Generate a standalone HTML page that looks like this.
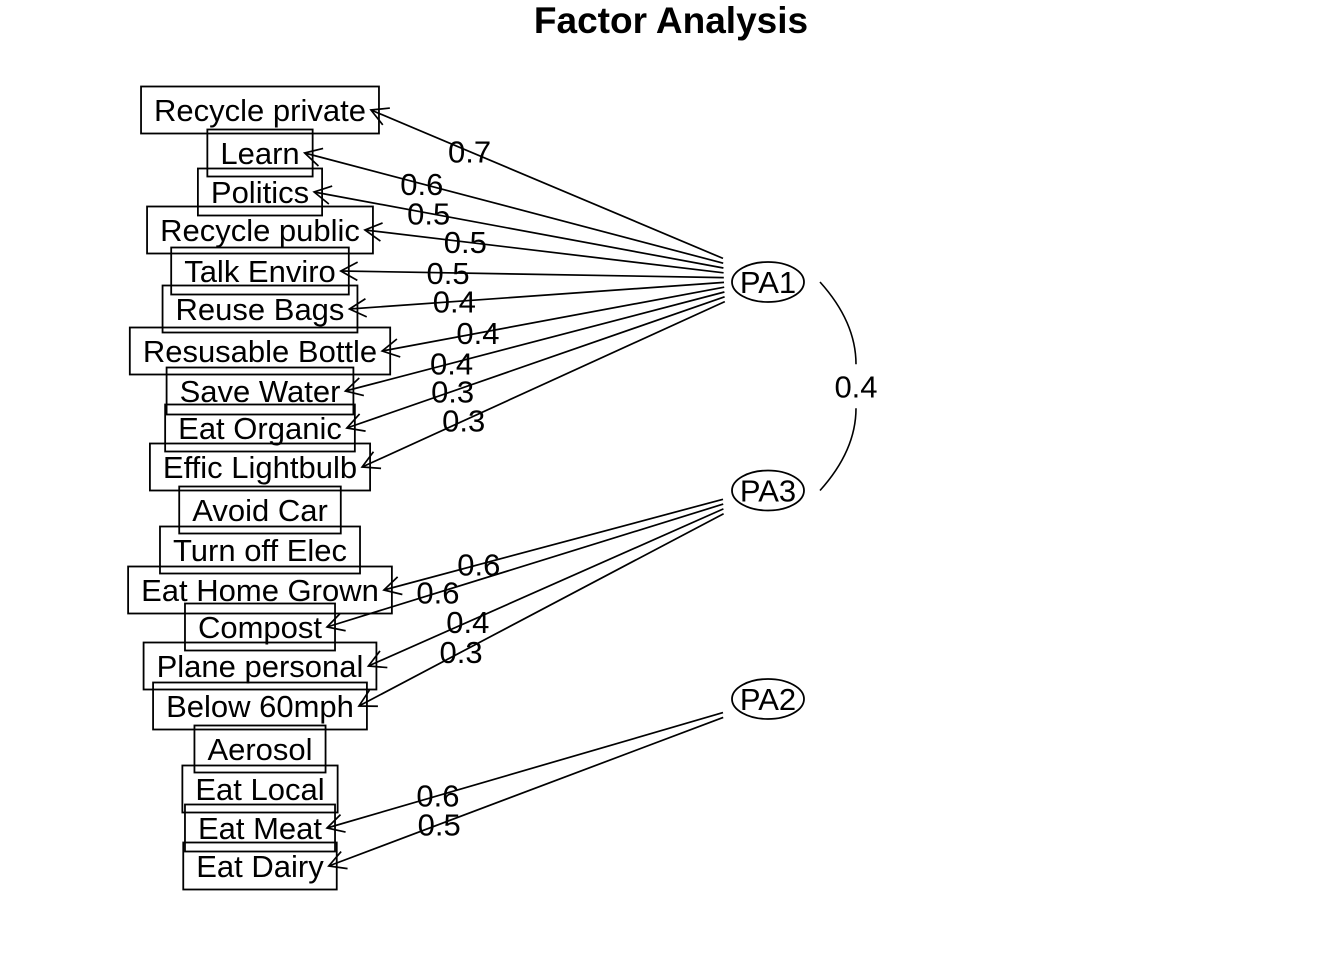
<!DOCTYPE html>
<html><head><meta charset="utf-8"><style>
body{margin:0;background:#fff}
svg{display:block}
text{font-family:"Liberation Sans",Arial,sans-serif;fill:#000}
</style></head><body>
<svg id="chart" width="1344" height="960" viewBox="0 0 1344 960">
<text x="671" y="33" font-size="37" font-weight="bold" text-anchor="middle">Factor Analysis</text>
<g id="boxes"></g><g id="arrows"></g><g id="factors"></g>
</svg>
<script>
const items=["Recycle private","Learn","Politics","Recycle public","Talk Enviro","Reuse Bags","Resusable Bottle","Save Water","Eat Organic","Effic Lightbulb","Avoid Car","Turn off Elec","Eat Home Grown","Compost","Plane personal","Below 60mph","Aerosol","Eat Local","Eat Meat","Eat Dairy"];
const loadings=[0.7,0.6,0.5,0.5,0.5,0.4,0.4,0.4,0.3,0.3,null,null,0.6,0.6,0.4,0.3,null,null,0.6,0.5];
const itemFactor=["PA1","PA1","PA1","PA1","PA1","PA1","PA1","PA1","PA1","PA1",null,null,"PA3","PA3","PA3","PA3",null,null,"PA2","PA2"];
const factors=["PA1","PA3","PA2"];
const correlations=[["PA1","PA3",0.4]];

const NS="http://www.w3.org/2000/svg";
const svg=document.getElementById('chart');
function mk(tag,attrs,parent){const e=document.createElementNS(NS,tag);for(const k in attrs)e.setAttribute(k,attrs[k]);parent.appendChild(e);return e;}
const rowY=[110,153,192,230,271,309,351,391,428,467,510,550,590,627,666,706,749,789,828,866];
const cx=260,fx=768,FS=31;
function factorY(i){return 282+i*208.5;}
const startShift=[-2,16,16];
const gB=document.getElementById('boxes'),gA=document.getElementById('arrows'),gF=document.getElementById('factors');
const meas=mk('text',{'font-size':FS,x:-1000,y:-1000},svg);
const tips=[];
items.forEach((name,i)=>{
  meas.textContent=name;const w=meas.getComputedTextLength();
  const y=rowY[i],bw=w+26;
  const r=mk('rect',{x:cx-bw/2,y:y-23.5,width:bw,height:47,fill:'none',stroke:'#000','stroke-width':1.8},gB);
  
  
  const t=mk('text',{x:cx,y:y+11,'font-size':FS,'text-anchor':'middle'},gB);
  t.textContent=name;
  
  
  tips.push(cx+w/2+5);
});
meas.remove();
factors.forEach((f,fi)=>{
  const fy=factorY(fi);
  const e=mk('ellipse',{cx:fx,cy:fy,rx:36,ry:20,fill:'none',stroke:'#000','stroke-width':1.8},gF);
  
  
  const t=mk('text',{x:fx,y:fy+11,'font-size':FS,'text-anchor':'middle'},gF);
  t.textContent=f;
  
  
  const idx=items.map((_,i)=>i).filter(i=>itemFactor[i]===f);
  idx.forEach((i,k)=>{
    const sx=723+k*0.2, sy=fy+startShift[fi]+(k-(idx.length-1)/2)*4.8;
    const tx=tips[i],ty=rowY[i];
    const l=mk('line',{x1:sx,y1:sy,x2:tx,y2:ty,stroke:'#000','stroke-width':1.7},gA);
    
    
    const ang=Math.atan2(sy-ty,sx-tx),h=19,a=0.5;
    const p=mk('path',{d:`M${tx+h*Math.cos(ang+a)},${ty+h*Math.sin(ang+a)} L${tx},${ty} L${tx+h*Math.cos(ang-a)},${ty+h*Math.sin(ang-a)}`,fill:'none',stroke:'#000','stroke-width':1.7},gA);
    
    
    const lt=0.28,lx=tx+(sx-tx)*lt,ly=ty+(sy-ty)*lt;
    const lab=mk('text',{x:lx,y:ly+11,'font-size':FS,'text-anchor':'middle'},gA);
    lab.textContent=loadings[i].toFixed(1);
    
    
  });
});
correlations.forEach(([a,b,v])=>{
  const y1=factorY(factors.indexOf(a)),y2=factorY(factors.indexOf(b)),ym=(y1+y2)/2;
  const path=`M820,${y1} Q856,${y1+40} 856,${ym-22} M856,${ym+22} Q856,${y2-40} 820,${y2}`;
  const c=mk('path',{d:path,fill:'none',stroke:'#000','stroke-width':1.6},gF);
  
  
  const t=mk('text',{x:856,y:ym+11,'font-size':FS,'text-anchor':'middle'},gF);
  t.textContent=v.toFixed(1);
  
  
});
</script>
</body></html>
